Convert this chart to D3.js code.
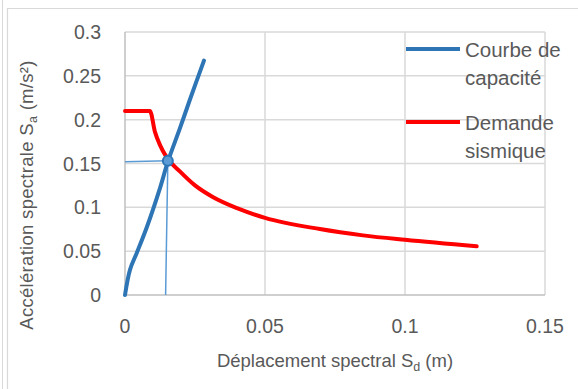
<!DOCTYPE html>
<html><head><meta charset="utf-8">
<script src="https://cdn.jsdelivr.net/npm/d3@7"></script>
<style>
html,body{margin:0;padding:0;background:#fff;}
svg{display:block;font-family:"Liberation Sans",Arial,sans-serif;}
</style></head>
<body><svg id="chart" width="578" height="389"></svg>
<script>
// Data
const capX = [0, 0.0018, 0.0042, 0.00775, 0.0125, 0.0153, 0.0196, 0.0232, 0.0282];
const capY = [0, 0.029, 0.048, 0.077, 0.122, 0.152, 0.19, 0.223, 0.2674];
const demX = [0, 0.0089, 0.0107, 0.0125, 0.0149, 0.0196, 0.025, 0.0315, 0.04, 0.05, 0.0696, 0.085, 0.1, 0.1256];
const demY = [0.21, 0.21, 0.186, 0.171, 0.157, 0.141, 0.125, 0.1115, 0.099, 0.088, 0.0752, 0.068, 0.0629, 0.0555];
const ptX = [0.0153];
const ptY = [0.153];
const hLineX = [0, 0.0153];
const hLineY = [0.152, 0.153];
const vLineX = [0.0145, 0.0153];
const vLineY = [0, 0.153];
const xTicks = [0, 0.05, 0.1, 0.15];
const yTicks = [0, 0.05, 0.1, 0.15, 0.2, 0.25, 0.3];
const legendNames = [["Courbe de", "capacité"], ["Demande", "sismique"]];

const svg = d3.select("#chart");
const W = 578, H = 389;
const x = d3.scaleLinear().domain([0, 0.15]).range([125, 545]);
const y = d3.scaleLinear().domain([0, 0.3]).range([295, 32]);

// outer frames
svg.append("line").attr("x1", 2.5).attr("x2", 2.5).attr("y1", 0).attr("y2", H).attr("stroke", "#d9d9d9");
svg.append("path").attr("d", `M7.5,${H}V8.5H${W}`).attr("fill", "none").attr("stroke", "#d9d9d9").attr("stroke-width", 1.2);

const textCol = "#595959";
const grid = svg.append("g");
yTicks.forEach(t => {
  if (t === 0) return;
  grid.append("line").attr("x1", x(0)).attr("x2", x(0.15)).attr("y1", y(t)).attr("y2", y(t))
    .attr("stroke", "#d9d9d9").attr("stroke-width", 1.5);
});
xTicks.forEach(t => {
  if (t === 0) return;
  grid.append("line").attr("x1", x(t)).attr("x2", x(t)).attr("y1", y(0)).attr("y2", y(0.3))
    .attr("stroke", "#d9d9d9").attr("stroke-width", 1.5);
});
// axes lines
svg.append("line").attr("x1", x(0)).attr("x2", x(0.15)).attr("y1", y(0)).attr("y2", y(0)).attr("stroke", "#bfbfbf").attr("stroke-width", 1.5);
svg.append("line").attr("x1", x(0)).attr("x2", x(0)).attr("y1", y(0)).attr("y2", y(0.3)).attr("stroke", "#bfbfbf").attr("stroke-width", 1.5);

// tick labels
const fmt = d => d === 0 ? "0" : String(d);
svg.append("g").selectAll("text").data(yTicks).join("text")
  .attr("x", 101).attr("y", d => y(d) + 7).attr("text-anchor", "end")
  .attr("font-size", 19.5).attr("fill", textCol).text(fmt);
svg.append("g").selectAll("text").data(xTicks).join("text")
  .attr("x", d => x(d)).attr("y", 333).attr("text-anchor", "middle")
  .attr("font-size", 19.5).attr("fill", textCol).text(fmt);

// axis titles
const xt = svg.append("text").attr("x", 335).attr("y", 367).attr("text-anchor", "middle")
  .attr("font-size", 18.5).attr("fill", textCol);
xt.append("tspan").text("Déplacement spectral S");
xt.append("tspan").attr("font-size", 12.5).attr("dy", 4).text("d");
xt.append("tspan").attr("dy", -4).text(" (m)");

const yt = svg.append("text").attr("transform", "translate(33,195) rotate(-90)").attr("text-anchor", "middle")
  .attr("font-size", 18.5).attr("fill", textCol).attr("letter-spacing", 0.3);
yt.append("tspan").text("Accélération spectrale  S");
yt.append("tspan").attr("font-size", 12.5).attr("dy", 4).text("a");
yt.append("tspan").attr("dy", -4).text(" (m/s²)");

// series
const lineGen = d3.line().x(d => x(d[0])).y(d => y(d[1]));
const cap = capX.map((v, i) => [v, capY[i]]);
const dem = demX.map((v, i) => [v, demY[i]]);
svg.append("path").datum(hLineX.map((v, i) => [v, hLineY[i]])).attr("d", lineGen)
  .attr("fill", "none").attr("stroke", "#5b9bd5").attr("stroke-width", 1.5);
svg.append("path").datum(vLineX.map((v, i) => [v, vLineY[i]])).attr("d", lineGen)
  .attr("fill", "none").attr("stroke", "#5b9bd5").attr("stroke-width", 1.5);
const smoothCR = d3.line().x(d => x(d[0])).y(d => y(d[1])).curve(d3.curveCatmullRom.alpha(0.5));
const smoothMono = d3.line().x(d => x(d[0])).y(d => y(d[1])).curve(d3.curveMonotoneX);
svg.append("path").datum(dem).attr("d", smoothMono)
  .attr("fill", "none").attr("stroke", "#ff0000").attr("stroke-width", 4).attr("stroke-linecap", "round").attr("stroke-linejoin", "round");
svg.append("path").datum(cap).attr("d", smoothCR)
  .attr("fill", "none").attr("stroke", "#2e75b6").attr("stroke-width", 4).attr("stroke-linecap", "round").attr("stroke-linejoin", "round");
svg.append("g").selectAll("circle").data(ptX.map((v, i) => [v, ptY[i]])).join("circle")
  .attr("cx", d => x(d[0])).attr("cy", d => y(d[1])).attr("r", 5)
  .attr("fill", "#5b9bd5").attr("stroke", "#2e75b6").attr("stroke-width", 2);

// legend
const legCols = ["#2e75b6", "#ff0000"];
const legY = [49, 122];
legendNames.forEach((nm, i) => {
  svg.append("line").attr("x1", 406).attr("x2", 460).attr("y1", legY[i]).attr("y2", legY[i])
    .attr("stroke", legCols[i]).attr("stroke-width", 4);
  nm.forEach((s, j) => {
    svg.append("text").attr("x", 465).attr("y", legY[i] + 8 + j * 27.5)
      .attr("font-size", 20.5).attr("fill", textCol).text(s);
  });
});
</script></body></html>
